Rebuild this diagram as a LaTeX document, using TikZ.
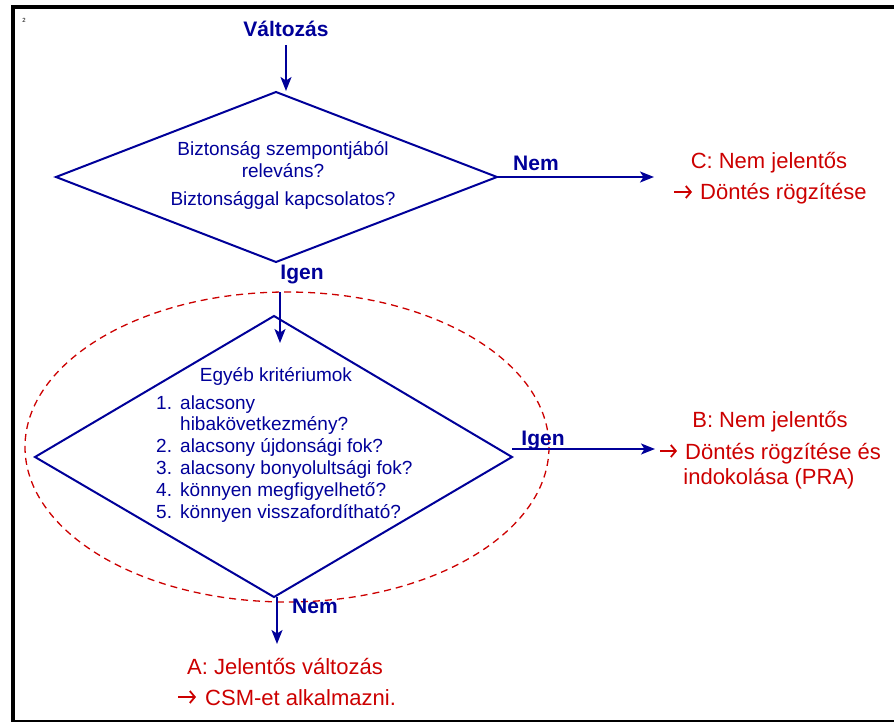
\documentclass[tikz,border=0pt]{standalone}
\usepackage{fontspec}
\setmainfont{Liberation Sans}
\usetikzlibrary{arrows.meta}
\definecolor{navy}{RGB}{0,0,153}
\definecolor{dred}{RGB}{204,0,0}
\begin{document}
\begin{tikzpicture}[x=1pt,y=-1pt,
  dia/.style={draw=navy, line width=2pt, line join=miter},
  conn/.style={draw=navy, line width=1.6pt, -{Stealth[length=14pt,width=11pt,inset=3.5pt]}},
  rarrow/.style={draw=dred, line width=1.8pt, -{Straight Barb[length=5pt,width=12pt,line width=1.8pt]}},
  btxt/.style={text=navy, font=\fontsize{19}{22}\selectfont, inner sep=0, anchor=base},
  blbl/.style={text=navy, font=\bfseries\fontsize{21}{24}\selectfont, inner sep=0, anchor=base},
  rtxt/.style={text=dred, font=\fontsize{22}{26}\selectfont, inner sep=0, anchor=base},
  rtxtl/.style={rtxt, anchor=base west},
  ltxt/.style={text=navy, font=\fontsize{19}{22}\selectfont, inner sep=0, anchor=base west}]
\useasboundingbox (0,0) rectangle (894,722);
% frame
\fill[black] (11,5) rectangle (894,9);
\fill[black] (11,5) rectangle (15,722);
\draw[black, line width=1.5pt] (11,721) -- (894,721);
\node[font=\fontsize{6}{7}\selectfont, inner sep=0] (pg) at (24,20) {2};

% title
\node[blbl] (valt) at (286,37) {Változás};
\coordinate (valtS) at (286,45);

% diamond 1
\coordinate (d1t) at (276,92);
\coordinate (d1r) at (497,177);
\coordinate (d1b) at (276,262);
\coordinate (d1l) at (56,177);
\draw[dia] (d1t) -- (d1r) -- (d1b) -- (d1l) -- cycle;
\node[btxt] (q1a) at (283,156) {Biztonság szempontjából};
\node[btxt] (q1b) at (283,178) {releváns?};
\node[btxt] (q1c) at (283,206) {Biztonsággal kapcsolatos?};
\coordinate (d1in) at (286,91);
\draw[conn] (valtS) -- (d1in);

% Nem -> C
\coordinate (cend) at (654,177);
\draw[conn] (d1r) -- (cend);
\node[blbl] (nem1) at (536,171) {Nem};
\node[rtxt] (c1) at (769,169) {C: Nem jelentős};
\coordinate (ca1) at (674,192);
\coordinate (ca2) at (692,192);
\draw[rarrow] (ca1) -- (ca2);
\node[rtxtl] (c2) at (700,200) {Döntés rögzítése};

% Igen down
\node[blbl] (igen1) at (302,279) {Igen};

% ellipse
\draw[dred, line width=1.3pt, dash pattern=on 7pt off 5pt] (287,447) ellipse [x radius=262, y radius=155];

% diamond 2
\coordinate (d2t) at (274,316);
\coordinate (d2r) at (512,457);
\coordinate (d2b) at (274,597);
\coordinate (d2l) at (35,457);
\draw[dia] (d2t) -- (d2r) -- (d2b) -- (d2l) -- cycle;
\coordinate (a2s) at (280,292);
\coordinate (a2e) at (280,343);
\draw[conn] (a2s) -- (a2e);

\node[btxt] (q2h) at (276,381) {Egyéb kritériumok};
\node[ltxt] (n1) at (156,409) {1.};
\node[ltxt] (t1) at (180,409) {alacsony};
\node[ltxt] (t1b) at (180,430) {hibakövetkezmény?};
\node[ltxt] (n2) at (156,452) {2.};
\node[ltxt] (t2) at (180,452) {alacsony újdonsági fok?};
\node[ltxt] (n3) at (156,474) {3.};
\node[ltxt] (t3) at (180,474) {alacsony bonyolultsági fok?};
\node[ltxt] (n4) at (156,496) {4.};
\node[ltxt] (t4) at (180,496) {könnyen megfigyelhető?};
\node[ltxt] (n5) at (156,518) {5.};
\node[ltxt] (t5) at (180,518) {könnyen visszafordítható?};

% Igen -> B
\coordinate (bs) at (512,449);
\coordinate (be) at (655,449);
\draw[conn] (bs) -- (be);
\node[blbl] (igen2) at (543,445) {Igen};
\node[rtxt] (b1) at (770,427) {B: Nem jelentős};
\coordinate (ba1) at (660,451);
\coordinate (ba2) at (677,451);
\draw[rarrow] (ba1) -- (ba2);
\node[rtxtl] (b2) at (685,459) {Döntés rögzítése és};
\node[rtxt] (b3) at (769,484) {indokolása (PRA)};

% Nem -> A
\coordinate (as) at (277,597);
\coordinate (ae) at (277,644);
\draw[conn] (as) -- (ae);
\node[blbl] (nem2) at (315,613) {Nem};
\node[rtxt] (a1) at (285,674) {A: Jelentős változás};
\coordinate (aa1) at (178,697);
\coordinate (aa2) at (196,697);
\draw[rarrow] (aa1) -- (aa2);
\node[rtxtl] (a2) at (205,705) {CSM-et alkalmazni.};
\end{tikzpicture}
\end{document}
